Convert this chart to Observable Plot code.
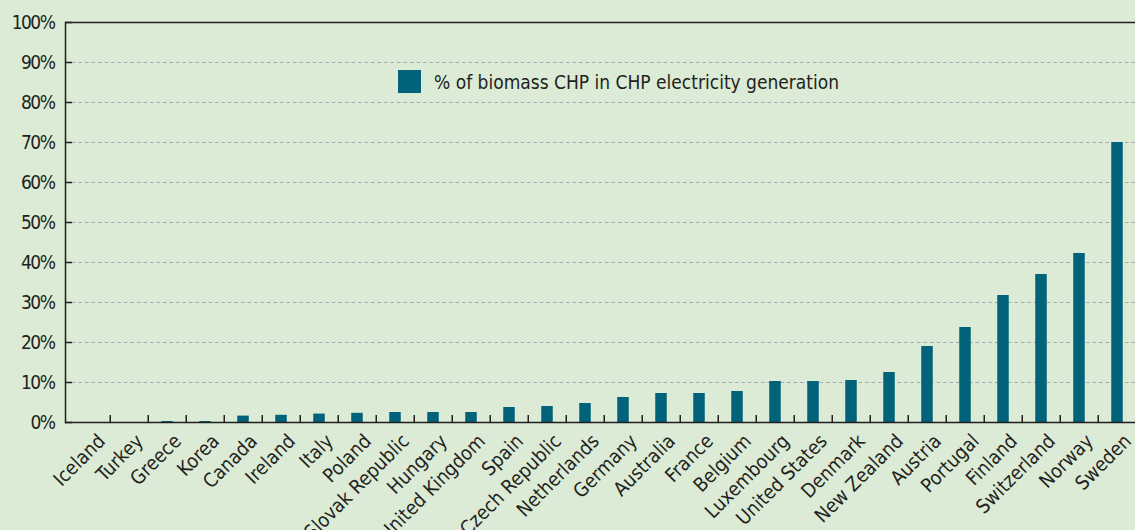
<!DOCTYPE html>
<html><head><meta charset="utf-8">
<script src="https://cdn.jsdelivr.net/npm/d3@7"></script>
<script src="https://cdn.jsdelivr.net/npm/@observablehq/plot@0.6"></script>
<style>
html,body{margin:0;padding:0;background:#dbebd5;overflow:hidden;}
#wrap{position:relative;width:1135px;height:530px;}
#legend{position:absolute;left:398px;top:70px;height:23px;display:flex;align-items:center;font-family:"DejaVu Sans Condensed","DejaVu Sans",sans-serif;font-size:19px;color:#231f20;white-space:nowrap;}
#legend .sw{display:inline-block;width:23px;height:23px;background:#00637a;margin-right:13px;}
g[aria-label="y-axis tick label"] text{letter-spacing:-1.5px;}
</style></head><body><div id="wrap"></div>
<script>
const countries = ["Iceland","Turkey","Greece","Korea","Canada","Ireland","Italy","Poland","Slovak Republic","Hungary","United Kingdom","Spain","Czech Republic","Netherlands","Germany","Australia","France","Belgium","Luxembourg","United States","Denmark","New Zealand","Austria","Portugal","Finland","Switzerland","Norway","Sweden"];
const shares = [0,0,0.25,0.25,1.6,1.8,2.1,2.3,2.5,2.5,2.5,3.75,4.0,4.75,6.25,7.25,7.25,7.75,10.25,10.25,10.5,12.5,19,23.75,31.75,37,42.25,70];
const yTicks = [0,10,20,30,40,50,60,70,80,90,100];
const seriesLabel = "% of biomass CHP in CHP electricity generation";

const data = countries.map((c, i) => ({country: c, share: shares[i]}));
const W = 1135, H = 530, ML = 65, MT = 22, MB = 108;
const plotH = H - MT - MB;
const xRange = [ML, 1143];
const step = (xRange[1] - xRange[0]) / countries.length;
const barW = 12;
const ink = "#231f20";
const condensed = "'DejaVu Sans Condensed','DejaVu Sans',sans-serif";

const chart = Plot.plot({
  width: W, height: H,
  marginLeft: ML, marginRight: 0, marginTop: MT, marginBottom: MB,
  style: {background: "transparent", overflow: "visible", color: ink},
  x: {type: "band", domain: countries, range: xRange, padding: 0, axis: null},
  y: {domain: [0, 100], axis: null},
  marks: [
    Plot.ruleY(yTicks.filter(t => t > 0 && t < 100), {stroke: "#a7a7b2", strokeDasharray: "3.5,3", insetLeft: 7, strokeWidth: 1}),
    Plot.barY(data, {x: "country", y: "share", fill: "#00637a", insetLeft: (step - barW) / 2, insetRight: (step - barW) / 2}),
    Plot.ruleY(yTicks, {stroke: ink, strokeWidth: 1.5, insetRight: W - ML - 7}),
    Plot.ruleX(countries.slice(1), {stroke: ink, strokeWidth: 1.5, dx: -step / 2, insetTop: plotH - 7}),
    Plot.ruleY([0, 100], {stroke: ink, strokeWidth: 1.5}),
    Plot.frame({anchor: "left", stroke: ink, strokeWidth: 1.5}),
    Plot.axisY(yTicks, {tickSize: 0, tickPadding: 11, tickFormat: d => d + "%", fontSize: 19, fontFamily: condensed, fill: ink, label: null}),
    Plot.text(countries, {x: d => d, frameAnchor: "bottom", text: d => d, rotate: -45, textAnchor: "end", lineAnchor: "top", dx: 5, dy: 10, fontSize: 19.5, fontFamily: condensed, fill: ink})
  ]
});
const wrap = document.getElementById("wrap");
wrap.appendChild(chart);
const legend = document.createElement("div");
legend.id = "legend";
legend.innerHTML = `<span class="sw"></span><span></span>`;
legend.lastChild.textContent = seriesLabel;
wrap.appendChild(legend);
</script>
</body></html>
